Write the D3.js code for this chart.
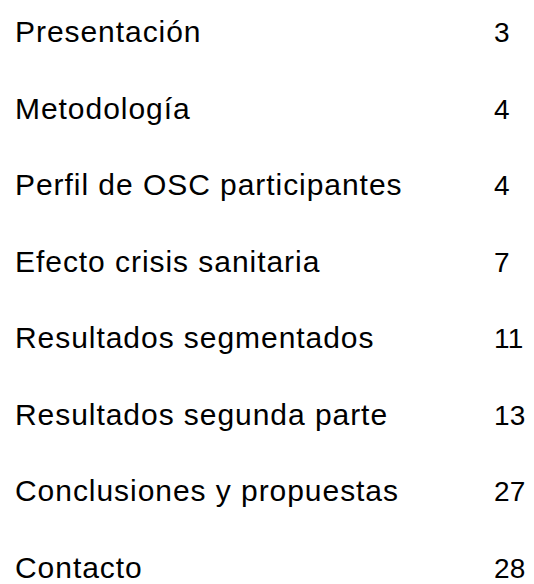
<!DOCTYPE html>
<html>
<head>
<meta charset="utf-8">
<script src="https://cdn.jsdelivr.net/npm/d3@7"></script>
<style>
  body { margin: 0; background: #fff; }
</style>
</head>
<body>
<div id="toc"></div>
<script>
// contents: section titles and their page numbers
var sections = ["Presentación", "Metodología", "Perfil de OSC participantes",
  "Efecto crisis sanitaria", "Resultados segmentados", "Resultados segunda parte",
  "Conclusiones y propuestas", "Contacto"];
var pages = [3, 4, 4, 7, 11, 13, 27, 28];

var width = 534, height = 584;

var svg = d3.select("#toc")
  .append("svg")
    .attr("width", width)
    .attr("height", height)

// one row per section, baselines spread evenly down the page
var y = d3.scalePoint()
  .domain(sections)
  .range([42, 578])

var rows = svg.selectAll("g.row")
  .data(sections.map(function(s, i){ return {name: s, page: pages[i]} }))
  .enter()
  .append("g")
    .attr("class", "row")
    .attr("transform", function(d){ return "translate(0," + y(d.name) + ")" })

rows.append("text")
  .attr("x", 15)
  .text(function(d){ return d.name })
  .style("font-family", "'Liberation Sans', Arial, sans-serif")
  .style("font-size", "30px")
  .style("letter-spacing", "0.95px")
  .style("fill", "#000")

rows.append("text")
  .attr("x", 494)
  .text(function(d){ return d.page })
  .style("font-family", "'Liberation Sans', Arial, sans-serif")
  .style("font-size", "28px")
  .style("letter-spacing", "0.2px")
  .style("fill", "#000")
</script>
</body>
</html>
